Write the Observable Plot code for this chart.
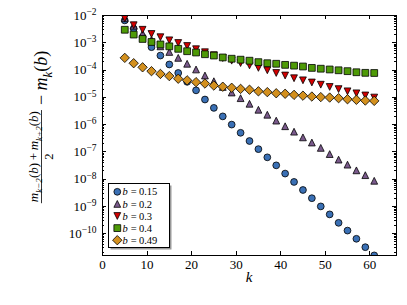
<!DOCTYPE html>
<html><head><meta charset="utf-8">
<script src="https://cdn.jsdelivr.net/npm/d3@7"></script>
<script src="https://cdn.jsdelivr.net/npm/@observablehq/plot@0.6"></script>
<style>
html,body{margin:0;padding:0;background:#fff;}
#chart svg{display:block;}
</style></head><body><div id="chart"></div>
<script>
// ---- data ----
const kValues = [5,7,9,11,13,15,17,19,21,23,25,27,29,31,33,35,37,39,41,43,45,47,49,51,53,55,57,59,61];
const bLabels = ["0.15","0.2","0.3","0.4","0.49"];
const b015 = [6.6e-3,3.3e-3,1.6e-3,6.9e-4,3.4e-4,1.6e-4,7.8e-5,3.7e-5,1.8e-5,8.3e-6,4.1e-6,2.0e-6,1.0e-6,5.0e-7,2.5e-7,1.26e-7,6.3e-8,3.2e-8,1.6e-8,7.9e-9,4.0e-9,2.0e-9,1.0e-9,5.1e-10,2.5e-10,1.3e-10,6.5e-11,3.2e-11,1.6e-11];
const b02  = [7.9e-3,4.2e-3,2.2e-3,1.3e-3,7.4e-4,4.6e-4,2.8e-4,1.7e-4,1.05e-4,6.3e-5,3.9e-5,2.4e-5,1.5e-5,9.3e-6,5.8e-6,3.5e-6,2.3e-6,1.4e-6,8.7e-7,5.5e-7,3.4e-7,2.2e-7,1.4e-7,8.3e-8,5.2e-8,3.4e-8,2.1e-8,1.4e-8,8.7e-9];
const b03  = [7.8e-3,4.4e-3,3.0e-3,2.1e-3,1.6e-3,1.23e-3,9.8e-4,7.6e-4,5.8e-4,4.5e-4,3.5e-4,2.75e-4,2.2e-4,1.8e-4,1.48e-4,1.2e-4,9.8e-5,7.8e-5,6.3e-5,5.0e-5,4.2e-5,3.5e-5,2.9e-5,2.4e-5,2.0e-5,1.66e-5,1.4e-5,1.17e-5,9.8e-6];
const b04  = [3.0e-3,2.0e-3,1.38e-3,1.07e-3,8.7e-4,7.4e-4,6.0e-4,4.9e-4,4.4e-4,3.8e-4,3.4e-4,2.9e-4,2.6e-4,2.4e-4,2.2e-4,1.95e-4,1.78e-4,1.7e-4,1.55e-4,1.45e-4,1.35e-4,1.2e-4,1.12e-4,1.05e-4,9.8e-5,9.1e-5,8.3e-5,7.9e-5,7.8e-5];
const b049 = [2.8e-4,1.78e-4,1.26e-4,9.1e-5,7.2e-5,6.0e-5,4.8e-5,4.2e-5,3.6e-5,3.2e-5,2.7e-5,2.45e-5,2.24e-5,2.04e-5,1.9e-5,1.66e-5,1.55e-5,1.41e-5,1.35e-5,1.23e-5,1.15e-5,1.07e-5,1.02e-5,9.8e-6,9.3e-6,8.5e-6,8.1e-6,7.6e-6,7.4e-6];
const xTicks = [0,10,20,30,40,50,60];
const yTicks = [1e-10,1e-9,1e-8,1e-7,1e-6,1e-5,1e-4,1e-3,1e-2];

// ---- styles ----
const seriesValues = [b015,b02,b03,b04,b049];
const colors = ["#3a70b5","#7a5a8c","#d40000","#4e9a06","#d3901e"];
const R = 3.4;
const rr = s => Math.sqrt(s/Math.PI);
const symCircle = {draw(c,s){const r=rr(s); c.moveTo(r,0); c.arc(0,0,r,0,2*Math.PI);}};
const symTriUp = {draw(c,s){const r=rr(s); c.moveTo(0,-r); c.lineTo(-r,r); c.lineTo(r,r); c.closePath();}};
const symTriDown = {draw(c,s){const r=rr(s); c.moveTo(0,r); c.lineTo(-r,-r); c.lineTo(r,-r); c.closePath();}};
const symSquare = {draw(c,s){const r=rr(s); c.rect(-r,-r,2*r,2*r);}};
const symDiamond = {draw(c,s){const d=rr(s)*1.38; c.moveTo(0,-d); c.lineTo(d,0); c.lineTo(0,d); c.lineTo(-d,0); c.closePath();}};
const symbols = [symCircle,symTriUp,symTriDown,symSquare,symDiamond];

const FONT = "'Liberation Serif', 'DejaVu Serif', serif";
const W = 407, H = 305, ML = 102, MR = 11, MT = 15, MB = 50;

const marks = seriesValues.map((vals,i) => Plot.dot(
  kValues.map((k,j) => ({k, v: vals[j]})),
  {x:"k", y:"v", r:R, symbol:symbols[i], fill:colors[i], stroke:"black", strokeWidth:0.8, clip:true}
));
marks.push(Plot.frame({stroke:"black", strokeWidth:1}));

const chart = Plot.plot({
  width: W, height: H,
  marginLeft: ML, marginRight: MR, marginTop: MT, marginBottom: MB,
  style: {fontFamily: FONT, fontSize: "13px", background: "white", color: "black"},
  x: {domain:[0,66], ticks: xTicks, tickSize: 0, tickPadding: 4, tickFormat: d => String(d), label: null},
  y: {type:"log", domain:[Math.pow(10,-10.8), 1e-2], ticks: yTicks, tickSize: 0, tickPadding: 6,
      tickFormat: d => String(Math.round(Math.log10(d))), label: null},
  marks
});
document.getElementById("chart").appendChild(chart);

const svg = d3.select(chart);
const ns = "http://www.w3.org/2000/svg";
const XS = chart.scale("x"), YS = chart.scale("y");
const fx = XS.apply ? v => XS.apply(v) : d3.scaleLinear().domain(XS.domain).range(XS.range);
const fy = YS.apply ? v => YS.apply(v) : d3.scaleLog().domain(YS.domain).range(YS.range);

// y tick labels as 10^n
svg.selectAll('g[aria-label="y-axis tick label"] text').each(function(){
  const e = this.textContent;
  this.textContent = "10";
  const ts = document.createElementNS(ns, "tspan");
  ts.setAttribute("dy", "-0.5em");
  ts.setAttribute("font-size", "9.5px");
  ts.textContent = "\u2212" + String(Math.abs(+e.replace("\u2212","-")));
  this.appendChild(ts);
});

// inward ticks on all four sides
const fLeft = ML, fRight = W - MR, fTop = MT, fBottom = H - MB;
const tg = svg.append("g").attr("stroke","black").attr("stroke-width",1).attr("fill","none");
xTicks.forEach(v => {
  const x = Math.round(fx(v)) + 0.5;
  tg.append("line").attr("x1",x).attr("x2",x).attr("y1",fBottom).attr("y2",fBottom-4);
  tg.append("line").attr("x1",x).attr("x2",x).attr("y1",fTop).attr("y2",fTop+4);
});
for (let n = -11; n <= -2; n++) {
  for (let j = 1; j <= 9; j++) {
    const v = j*Math.pow(10,n);
    if (v < YS.domain[0] || v > YS.domain[1]*1.0001) continue;
    const y = Math.round(fy(v)) + 0.5;
    const len = j === 1 ? 4 : 2;
    tg.append("line").attr("x1",fLeft).attr("x2",fLeft+len).attr("y1",y).attr("y2",y);
    tg.append("line").attr("x1",fRight).attr("x2",fRight-len).attr("y1",y).attr("y2",y);
  }
}

// x label
svg.append("text").attr("x",(fLeft+fRight)/2).attr("y",282).attr("text-anchor","middle")
  .attr("font-family",FONT).attr("font-size","15px").attr("font-style","italic").text("k");

// y label: (m_{k-2}(b)+m_{k+2}(b))/2 - m_k(b)
const yl = svg.append("g").attr("font-family",FONT).attr("fill","black").attr("text-anchor","start");
function addRich(parent, parts, size) {
  const t = parent.append("text").attr("font-size", size + "px").attr("text-anchor","start");
  let cur = 0;
  parts.forEach(p => {
    const ts = t.append("tspan").text(p.t);
    if (p.i) ts.attr("font-style","italic");
    const target = p.sub ? size*0.3 : 0;
    const fs = p.sub ? size*0.7 : size;
    ts.attr("font-size", fs + "px");
    if (target !== cur) { ts.attr("dy", target - cur); cur = target; }
  });
  return t;
}
const numParts = [{t:"m",i:1},{t:"k\u22122",i:1,sub:1},{t:"(",},{t:"b",i:1},{t:")\u2009+\u2009"},{t:"m",i:1},{t:"k+2",i:1,sub:1},{t:"(",},{t:"b",i:1},{t:")"}];
const restParts = [{t:"\u2212 "},{t:"m",i:1},{t:"k",i:1,sub:1},{t:"("},{t:"b",i:1},{t:")"}];
const inner = yl.append("g");
const num = addRich(inner, numParts, 13);
const den = inner.append("text").attr("font-size","12.5px").attr("text-anchor","start").text("2");
const rest = addRich(inner, restParts, 18);
const wN = num.node().getComputedTextLength();
const wD = den.node().getComputedTextLength();
const wR = rest.node().getComputedTextLength();
const barW = wN + 2, gap = 5;
const total = barW + gap + wR;
const u0 = -total/2;
num.attr("x", u0 + 1).attr("y", -3.5);
den.attr("x", u0 + barW/2 - wD/2).attr("y", 11.5);
inner.append("line").attr("x1",u0).attr("x2",u0+barW).attr("y1",0).attr("y2",0).attr("stroke","black").attr("stroke-width",0.8);
rest.attr("x", u0 + barW + gap).attr("y", 5.5);
inner.attr("transform", "translate(41.5,127) rotate(-90)");

// legend
const lg = svg.append("g").attr("font-family",FONT).attr("text-anchor","start");
const lx = 108.5, ly = 183.5, lw = 61, lh = 64;
lg.append("rect").attr("x",lx+2).attr("y",ly+2).attr("width",lw).attr("height",lh).attr("fill","#999");
lg.append("rect").attr("x",lx).attr("y",ly).attr("width",lw).attr("height",lh).attr("fill","white").attr("stroke","black").attr("stroke-width",1);
bLabels.forEach((b,i) => {
  const y = ly + 8.3 + i*12.1;
  const p = d3.path(); symbols[i].draw(p, Math.PI*R*R);
  lg.append("path").attr("d", p.toString()).attr("transform",`translate(117.3,${y})`)
    .attr("fill",colors[i]).attr("stroke","black").attr("stroke-width",0.8);
  const t = lg.append("text").attr("x",122.5).attr("y",y).attr("dy","0.35em").attr("font-size","10.5px").attr("text-anchor","start");
  t.append("tspan").attr("font-style","italic").text("b");
  t.append("tspan").attr("dx", 1).text("\u2009=\u20090" );
  t.append("tspan").text(b.slice(1));
});
</script>
</body></html>
